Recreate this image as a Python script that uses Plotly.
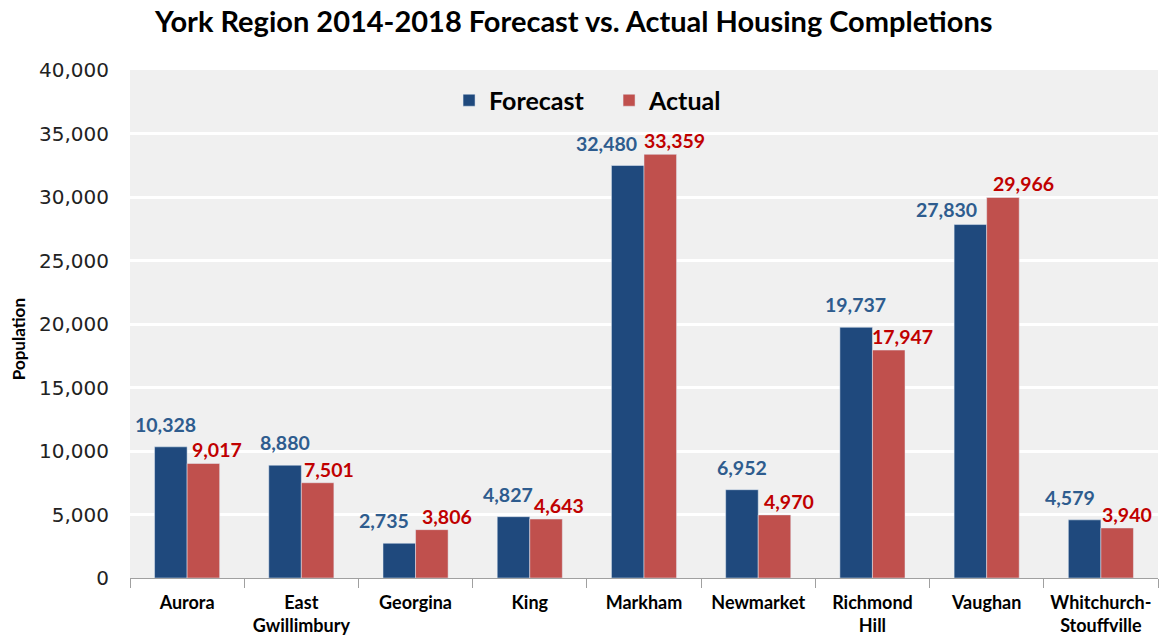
import plotly.graph_objects as go

categories = ["Aurora", "East<br>Gwillimbury", "Georgina", "King", "Markham",
              "Newmarket", "Richmond<br>Hill", "Vaughan", "Whitchurch-<br>Stouffville"]
forecast = [10328, 8880, 2735, 4827, 32480, 6952, 19737, 27830, 4579]
actual = [9017, 7501, 3806, 4643, 33359, 4970, 17947, 29966, 3940]
y_ticks = [0, 5000, 10000, 15000, 20000, 25000, 30000, 35000, 40000]

# styling: pixel nudges of the data labels relative to their bar centres
forecast_label_dx = [-5, 0, -15, -5, -21, 0, 0, -24, -14]
forecast_label_dy = [9, 9, 9, 9, 9, 9, 9, 2, 9]
actual_label_dx = [13, 11, 15, 13, 14, 14, 14, 20, 10]

blue = "#1F497D"
red = "#C0504D"
blue_lbl = "#2E5C8E"
red_lbl = "#C00000"
font_main = "Lato, 'Open Sans', sans-serif"
half_bar_px = 16.5

fig = go.Figure()
fig.add_trace(go.Bar(name="Forecast", x=categories, y=forecast, marker_color=blue))
fig.add_trace(go.Bar(name="Actual", x=categories, y=actual, marker_color=red))

annotations = []
for i, (c, f, a) in enumerate(zip(categories, forecast, actual)):
    annotations.append(dict(x=c, y=f, xref="x", yref="y", text=f"<b>{f:,}</b>",
                            showarrow=False, xanchor="center", yanchor="bottom",
                            xshift=-half_bar_px + forecast_label_dx[i],
                            yshift=forecast_label_dy[i],
                            font=dict(family=font_main, size=19.5, color=blue_lbl)))
    annotations.append(dict(x=c, y=a, xref="x", yref="y", text=f"<b>{a:,}</b>",
                            showarrow=False, xanchor="center", yanchor="bottom",
                            xshift=half_bar_px + actual_label_dx[i], yshift=0,
                            font=dict(family=font_main, size=19.5, color=red_lbl)))
annotations.append(dict(x=-0.109, y=0.47, xref="paper", yref="paper",
                        text="<b>Population</b>", textangle=-90, showarrow=False,
                        xanchor="center", yanchor="middle",
                        font=dict(family=font_main, size=17, color="black")))

fig.update_layout(
    width=1159, height=637,
    barmode="group", bargap=0.43, bargroupgap=0,
    paper_bgcolor="white", plot_bgcolor="#F0F0F0",
    margin=dict(l=130, r=1, t=70, b=59),
    title=dict(text="<b>York Region 2014-2018 Forecast vs. Actual Housing Completions</b>",
               x=0.495, xanchor="center", y=0.965, yanchor="middle",
               font=dict(family=font_main, size=29, color="black")),
    legend=dict(orientation="h", x=0.466, xanchor="center", y=0.94, yanchor="middle",
                bgcolor="rgba(0,0,0,0)",
                font=dict(family=font_main, size=25, color="black", weight="bold"),
                itemwidth=30, entrywidth=115, entrywidthmode="pixels"),
    annotations=annotations,
    showlegend=True,
)
fig.update_yaxes(range=[0, 40000], tickvals=y_ticks, tickformat=",",
                 showgrid=True, gridcolor="white", gridwidth=3,
                 tickfont=dict(family="DejaVu Sans", size=20, color="#222222"),
                 ticks="", zeroline=False, automargin=False, ticklabelstandoff=20)
fig.update_xaxes(range=[-0.5, len(categories) - 0.5],
                 showline=True, linecolor="#A0A0A0", linewidth=1,
                 ticks="outside", tickson="boundaries", ticklen=9, tickcolor="#A0A0A0",
                 tickfont=dict(family=font_main, size=18, color="black", weight="bold"),
                 ticklabelstandoff=8, showgrid=False, automargin=False)

fig.write_html("out.html", config={"displayModeBar": False},
               post_script="document.body.style.margin='0';document.body.style.overflow='hidden';")
